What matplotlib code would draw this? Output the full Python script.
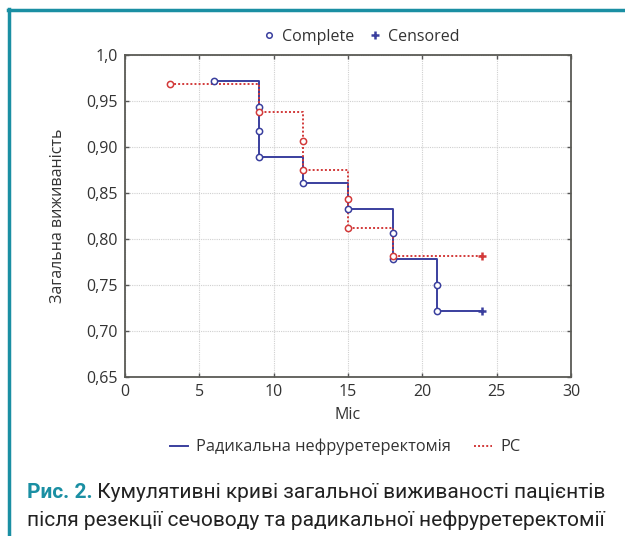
import matplotlib.pyplot as plt
from matplotlib.lines import Line2D
from matplotlib.ticker import FixedLocator, FixedFormatter

plt.rcParams['font.family'] = ['Open Sans', 'DejaVu Sans']

# Радикальна нефруретеректомія (step curve, value holds after each time)
rn_t = [6, 9, 12, 15, 18, 21, 24]
rn_s = [0.972, 0.889, 0.861, 0.833, 0.778, 0.722, 0.722]
rn_evt_t = [6, 9, 9, 9, 12, 15, 18, 18, 21, 21]
rn_evt_s = [0.972, 0.944, 0.917, 0.889, 0.861, 0.833, 0.806, 0.778, 0.750, 0.722]
rn_cens_t = [24]
rn_cens_s = [0.722]

# РС
rs_t = [3, 9, 12, 15, 18, 24]
rs_s = [0.969, 0.9375, 0.875, 0.8125, 0.781, 0.781]
rs_evt_t = [3, 9, 12, 12, 15, 15, 18]
rs_evt_s = [0.969, 0.9375, 0.906, 0.875, 0.844, 0.8125, 0.781]
rs_cens_t = [24]
rs_cens_s = [0.781]

yticks = [0.65, 0.70, 0.75, 0.80, 0.85, 0.90, 0.95, 1.0]
ylabels = ['0,65', '0,70', '0,75', '0,80', '0,85', '0,90', '0,95', '1,0']
xticks = [0, 5, 10, 15, 20, 25, 30]

blue = '#3a3f9e'
red = '#d23a3a'
teal = '#1a8fa3'

fig = plt.figure(figsize=(6.25, 5.36), dpi=100)
ax = fig.add_axes([0.2, 0.2966, 0.7136, 0.6008])

ax.step(rn_t, rn_s, where='post', color=blue, lw=1.4, zorder=3)
ax.step(rs_t, rs_s, where='post', color=red, lw=1.4, ls=(0, (1, 1.1)), zorder=3)
ax.plot(rn_evt_t, rn_evt_s, 'o', ms=4.5, mfc='white', mec=blue, mew=1.1, zorder=4)
ax.plot(rs_evt_t, rs_evt_s, 'o', ms=4.5, mfc='white', mec=red, mew=1.1, zorder=4)
ax.plot(rn_cens_t, rn_cens_s, '+', ms=6, mec=blue, mew=1.8, zorder=4)
ax.plot(rs_cens_t, rs_cens_s, '+', ms=6, mec=red, mew=1.8, zorder=4)

ax.set_xlim(0, 30)
ax.set_ylim(0.65, 1.0)
ax.xaxis.set_major_locator(FixedLocator(xticks))
ax.yaxis.set_major_locator(FixedLocator(yticks))
ax.yaxis.set_major_formatter(FixedFormatter(ylabels))
ax.tick_params(direction='in', length=3, width=1, color='#555555',
               top=True, right=True, labelsize=11.5, labelcolor='#333333', pad=5)
ax.grid(True, color='#d0d0d0', ls=(0, (1, 1)), lw=0.8)
ax.set_axisbelow(True)
for s in ax.spines.values():
    s.set_color('#5a5a55')
    s.set_linewidth(1.3)

ax.set_xlabel('Міс', fontsize=11.5, color='#333333', labelpad=5)
ax.set_ylabel('Загальна виживаність', fontsize=11.5, color='#333333', labelpad=15)

# top legend
top_h = [Line2D([], [], ls='none', marker='o', ms=4, mfc='white', mec=blue, mew=1.1),
         Line2D([], [], ls='none', marker='+', ms=5.5, mec=blue, mew=1.8)]
fig.legend(top_h, ['Complete', 'Censored'], loc='center', bbox_to_anchor=(0.578, 0.931),
           ncol=2, frameon=False, fontsize=11.5, handlelength=0.8, handletextpad=0.4,
           columnspacing=0.9, labelcolor='#333333')

# bottom legend
bot_h = [Line2D([], [], color=blue, lw=1.4),
         Line2D([], [], color=red, lw=1.4, ls=(0, (1, 1.1)))]
fig.legend(bot_h, ['Радикальна нефруретеректомія', 'РС'], loc='center',
           bbox_to_anchor=(0.552, 0.166), ncol=2, frameon=False, fontsize=11.8,
           handlelength=1.1, handletextpad=0.5, columnspacing=1.4, labelcolor='#333333')

# рамка
fig.add_artist(Line2D([0.013, 1.0], [0.981, 0.981], color=teal, lw=2.5, transform=fig.transFigure))
fig.add_artist(Line2D([0.014, 0.014], [0.0, 0.983], color=teal, lw=2.5, transform=fig.transFigure))

# підпис
cap_font = ['Roboto', 'DejaVu Sans']
bold = fig.text(0.043, 0.082, 'Рис. 2.', fontsize=15, fontweight='bold', color=teal,
                family=cap_font, va='center')
fig.add_artist(plt.Annotation(' Кумулятивні криві загальної виживаності пацієнтів',
                              xy=(1, 0.5), xycoords=bold, va='center', ha='left',
                              fontsize=15, color='#222222', family=cap_font))
fig.text(0.043, 0.030, 'після резекції сечоводу та радикальної нефруретеректомії', fontsize=15,
         color='#222222', family=cap_font, va='center')

fig.savefig('out.png', dpi=100)
